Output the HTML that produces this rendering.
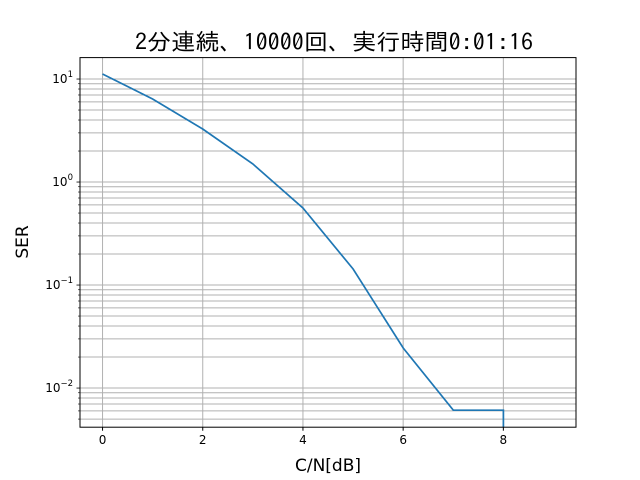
<!DOCTYPE html>
<html><head><meta charset="utf-8"><style>body{margin:0;background:#fff}svg{display:block}</style></head>
<body>
<svg id="c" width="640" height="480" xmlns="http://www.w3.org/2000/svg" font-family="'DejaVu Sans','Liberation Sans',sans-serif">
<rect width="640" height="480" fill="#fff"/>
<text x="334" y="50" text-anchor="middle" font-size="23" textLength="398" lengthAdjust="spacingAndGlyphs" font-family="'IPAGothic','Noto Sans CJK JP',sans-serif">2分連続、10000回、実行時間0:01:16</text>
<g id="grid"></g><g id="plot"></g><g id="ticks"></g>
<rect x="80" y="57.6" width="496" height="369.6" fill="none" stroke="#000" stroke-width="1"/>
<text x="328" y="471" text-anchor="middle" font-size="17">C/N[dB]</text>
<text x="0" y="0" transform="translate(28,242) rotate(-90)" text-anchor="middle" font-size="17">SER</text>
</svg>
<script>
const xs=[0,1,2,3,4,5,6,7,8,9];
const ser=[11.2,6.4,3.27,1.5,0.56,0.143,0.0245,0.0061,0.0061,0];
const xTicks=[0,2,4,6,8];
const yDecades=[-2,-1,0,1];
const L=80,R=576,T=57.6,B=427.2,x0=-0.45,x1=9.45,ly0=-2.38,ly1=1.208;
const NS='http://www.w3.org/2000/svg';
const X=v=>L+(v-x0)/(x1-x0)*(R-L);
const Y=v=>B-(Math.log10(v)-ly0)/(ly1-ly0)*(B-T);
function mk(tag,a,p){const e=document.createElementNS(NS,tag);for(const k in a)e.setAttribute(k,a[k]);p.appendChild(e);return e;}
const g=document.getElementById('grid'),tk=document.getElementById('ticks'),pl=document.getElementById('plot');
xTicks.forEach(t=>{const x=X(t);
 const l=mk('line',{x1:x,x2:x,y1:T,y2:B,stroke:'#b0b0b0','stroke-width':1},g);
 
 mk('line',{x1:x,x2:x,y1:B,y2:B+3.5,stroke:'#000'},tk);
 const s=mk('text',{x:x,y:B+17,'text-anchor':'middle','font-size':12},tk);s.textContent=t;
 });
for(let d=-3;d<=1;d++){for(let m=1;m<10;m++){const v=m*Math.pow(10,d);const y=Y(v);if(y<T||y>B)continue;
 const l=mk('line',{x1:L,x2:R,y1:y,y2:y,stroke:'#b0b0b0','stroke-width':1},g);
 
 mk('line',{x1:L-(m==1?3.5:2),x2:L,y1:y,y2:y,stroke:'#000','stroke-width':m==1?0.8:0.6},tk);}}
yDecades.forEach(d=>{const y=Y(Math.pow(10,d));
 const s=mk('text',{x:L-7,y:y+4,'text-anchor':'end','font-size':12},tk);
 
 s.textContent='10';const sp=mk('tspan',{dy:-6,'font-size':8.5},s);sp.textContent=d<0?'\u2212'+(-d):d;});
let pts=[];xs.forEach((x,i)=>{let v=ser[i];let y=v>0?Y(v):B+5;pts.push(X(x).toFixed(1)+','+y.toFixed(1));
 if(!(v>0)){pts.pop();pts.push(X(xs[i-1]).toFixed(1)+','+(B+5));}});
const cp=mk('clipPath',{id:'cl'},pl);mk('rect',{x:L,y:T,width:R-L,height:B-T},cp);
const p=mk('polyline',{points:pts.join(' '),fill:'none',stroke:'#1f77b4','stroke-width':1.7,'clip-path':'url(#cl)'},pl);

</script>
</body></html>
